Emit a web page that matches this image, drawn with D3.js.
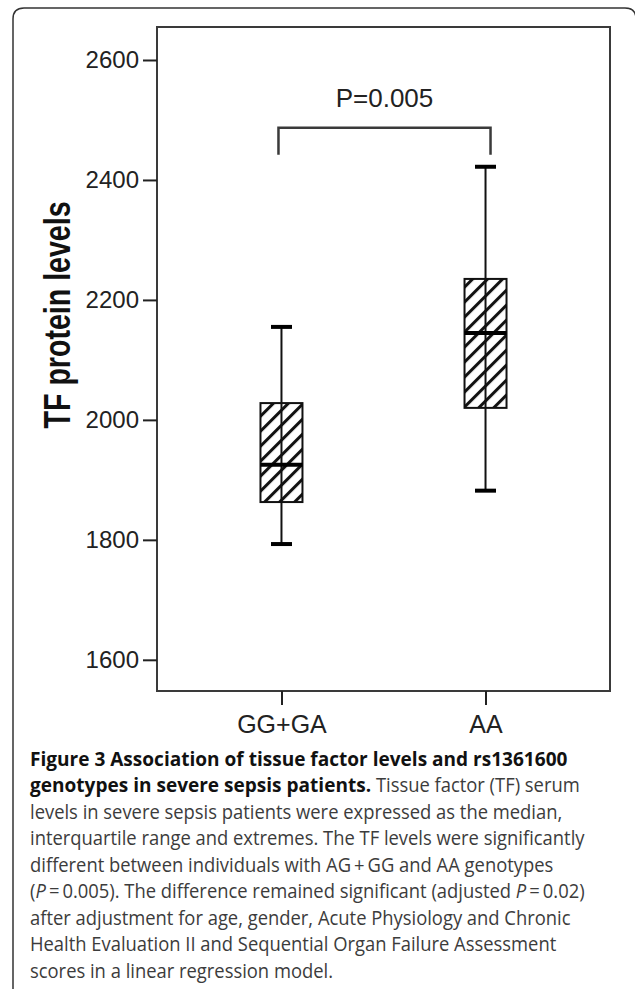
<!DOCTYPE html>
<html>
<head>
<meta charset="utf-8">
<script src="https://cdn.jsdelivr.net/npm/d3@7"></script>
<style>
  html, body { margin: 0; padding: 0; background: #fff; }
  svg { display: block; }
</style>
</head>
<body>
<svg id="chart"></svg>
<script>
// values
const categories = ["GG+GA", "AA"];
const lowWhisker = [1793, 1882];
const q1 = [1863, 2020];
const medians = [1925, 2145];
const q3 = [2028, 2235];
const highWhisker = [2155, 2422];

const yTicks = [1600, 1800, 2000, 2200, 2400, 2600];
const yExtent = [1548, 2655];
const yTitle = "TF protein levels";

const pLabel = "P=0.005";
const bracketLevels = [2487, 2442]; // bar, arm ends

// caption, one array of [text, style] per line
const captionLines = [
    [["Figure 3 Association of tissue factor levels and rs1361600", "b"]],
    [["genotypes in severe sepsis patients.", "b"], [" Tissue factor (TF) serum", "n"]],
    [["levels in severe sepsis patients were expressed as the median,", "n"]],
    [["interquartile range and extremes. The TF levels were significantly", "n"]],
    [["different between individuals with AG\u2009+\u2009GG and AA genotypes", "n"]],
    [["(", "n"], ["P", "i"], ["\u2009=\u20090.005). The difference remained significant (adjusted ", "n"], ["P", "i"], ["\u2009=\u20090.02)", "n"]],
    [["after adjustment for age, gender, Acute Physiology and Chronic", "n"]],
    [["Health Evaluation II and Sequential Organ Failure Assessment", "n"]],
    [["scores in a linear regression model.", "n"]]
];

const width = 635;
const height = 989;
const plot = {left: 157, right: 610, top: 27, bottom: 691};

const svg = d3.select("#chart")
    .attr("width", width)
    .attr("height", height);

// hatch for the boxes
const defs = svg.append("defs");
defs.append("pattern")
    .attr("id", "hatch")
    .attr("patternUnits", "userSpaceOnUse")
    .attr("width", 10.6)
    .attr("height", 10.6)
    .attr("patternTransform", "rotate(45)")
    .call(function (p) {
        p.append("rect").attr("width", 10.6).attr("height", 10.6).attr("fill", "#fff");
        p.append("line")
            .attr("x1", 1.5).attr("x2", 1.5)
            .attr("y1", 0).attr("y2", 10.6)
            .attr("stroke", "#111")
            .attr("stroke-width", 3);
    });

// outer frame, open at the bottom
svg.append("path")
    .attr("d", "M13,989 L13,19 Q13,8 24,8 L625,8 Q636,8 636,19 L636,989")
    .attr("fill", "none")
    .attr("stroke", "#333")
    .attr("stroke-width", 1.5);

const y = d3.scaleLinear().domain(yExtent).range([plot.bottom, plot.top]);
const x = d3.scalePoint().domain(categories).range([plot.left, plot.right]).padding(0.61);

// plot frame
svg.append("rect")
    .attr("x", plot.left)
    .attr("y", plot.top)
    .attr("width", plot.right - plot.left)
    .attr("height", plot.bottom - plot.top)
    .attr("fill", "none")
    .attr("stroke", "#3a3a3a")
    .attr("stroke-width", 2);

const yAxis = svg.append("g")
    .attr("transform", "translate(" + plot.left + ",0)")
    .call(d3.axisLeft(y).tickValues(yTicks).tickSize(14).tickPadding(4).tickFormat(d3.format("d")));
yAxis.select(".domain").remove();
yAxis.selectAll(".tick line").attr("stroke", "#222").attr("stroke-width", 2);
yAxis.selectAll(".tick text")
    .attr("font-family", "'Liberation Sans', Arial, sans-serif")
    .attr("font-size", 24)
    .attr("fill", "#222");

const xAxis = svg.append("g")
    .attr("transform", "translate(0," + plot.bottom + ")")
    .call(d3.axisBottom(x).tickSize(14).tickPadding(10));
xAxis.select(".domain").remove();
xAxis.selectAll(".tick line").attr("stroke", "#222").attr("stroke-width", 2);
xAxis.selectAll(".tick text")
    .attr("font-family", "'Liberation Sans', Arial, sans-serif")
    .attr("font-size", 25)
    .attr("fill", "#222");

// y title
svg.append("text")
    .attr("transform", "translate(70," + y(2175) + ") rotate(-90)")
    .attr("text-anchor", "middle")
    .attr("font-family", "'Liberation Sans', Arial, sans-serif")
    .attr("font-weight", "bold")
    .attr("font-size", 36)
    .attr("textLength", 227)
    .attr("lengthAdjust", "spacingAndGlyphs")
    .attr("fill", "#111")
    .text(yTitle);

// boxes
const boxW = 42;
const capW = 21;
const boxes = svg.append("g").selectAll("g")
    .data(categories)
    .enter().append("g");

boxes.append("rect")
    .attr("x", function (d) { return x(d) - boxW / 2; })
    .attr("y", function (d, i) { return y(q3[i]); })
    .attr("width", boxW)
    .attr("height", function (d, i) { return y(q1[i]) - y(q3[i]); })
    .attr("fill", "url(#hatch)")
    .attr("stroke", "#111")
    .attr("stroke-width", 2);

boxes.append("line")
    .attr("x1", function (d) { return x(d); })
    .attr("x2", function (d) { return x(d); })
    .attr("y1", function (d, i) { return y(lowWhisker[i]); })
    .attr("y2", function (d, i) { return y(highWhisker[i]); })
    .attr("stroke", "#111")
    .attr("stroke-width", 2);

boxes.append("line")
    .attr("x1", function (d) { return x(d) - boxW / 2; })
    .attr("x2", function (d) { return x(d) + boxW / 2; })
    .attr("y1", function (d, i) { return y(medians[i]); })
    .attr("y2", function (d, i) { return y(medians[i]); })
    .attr("stroke", "#000")
    .attr("stroke-width", 4);

[lowWhisker, highWhisker].forEach(function (arr) {
    boxes.append("line")
        .attr("x1", function (d) { return x(d) - capW / 2; })
        .attr("x2", function (d) { return x(d) + capW / 2; })
        .attr("y1", function (d, i) { return y(arr[i]); })
        .attr("y2", function (d, i) { return y(arr[i]); })
        .attr("stroke", "#000")
        .attr("stroke-width", 4);
});

// significance bracket
const bx0 = x(categories[0]) - 3;
const bx1 = x(categories[1]) + 5;
svg.append("path")
    .attr("d", "M" + bx0 + "," + y(bracketLevels[1]) +
        "L" + bx0 + "," + y(bracketLevels[0]) +
        "L" + bx1 + "," + y(bracketLevels[0]) +
        "L" + bx1 + "," + y(bracketLevels[1]))
    .attr("fill", "none")
    .attr("stroke", "#3a3a3a")
    .attr("stroke-width", 2.5);

svg.append("text")
    .attr("x", (bx0 + bx1) / 2)
    .attr("y", 107)
    .attr("text-anchor", "middle")
    .attr("font-family", "'Liberation Sans', Arial, sans-serif")
    .attr("font-size", 26)
    .attr("fill", "#222")
    .text(pLabel);

// caption
const caption = svg.append("g");
const lineGap = 26.5;
const captionTexts = caption.selectAll("text")
    .data(captionLines)
    .enter().append("text")
    .attr("x", 0)
    .attr("y", function (d, i) { return 766 + i * lineGap; })
    .attr("font-family", "'Open Sans', 'Noto Sans', sans-serif")
    .attr("font-size", 19.5);

captionTexts.selectAll("tspan")
    .data(function (d) { return d; })
    .enter().append("tspan")
    .attr("font-weight", function (d) { return d[1] === "b" ? "bold" : null; })
    .attr("font-size", function (d) { return d[1] === "b" ? 20.2 : null; })
    .attr("font-style", function (d) { return d[1] === "i" ? "italic" : null; })
    .attr("fill", function (d) { return d[1] === "b" ? "#111" : "#3c3c3c"; })
    .text(function (d) { return d[0]; });

// squeeze the caption horizontally so the long line fits like the original
const refLen = captionTexts.nodes()[3].getComputedTextLength();
const k = 555 / refLen;
caption.attr("transform", "translate(30,0) scale(" + k + ",1)");
</script>
</body>
</html>
